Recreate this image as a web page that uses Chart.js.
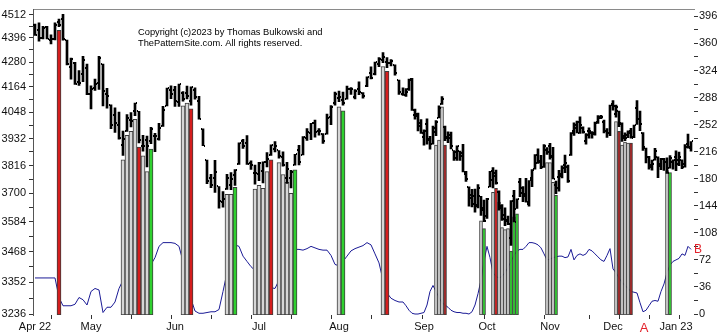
<!DOCTYPE html>
<html>
<head>
<meta charset="utf-8">
<script src="https://cdn.jsdelivr.net/npm/chart.js@4.4.1/dist/chart.umd.min.js"></script>
<style>
  html, body { margin: 0; padding: 0; background: #fff; }
  canvas { display: block; }
</style>
</head>
<body>
<canvas id="chart" width="725" height="334"></canvas>
<script>
// S&P 500 daily bars, 11 Apr 2022 .. 10 Jan 2023 (one entry per session)
const opens = [4462,4437,4394,4449,4385,4390,4473,4490,4385,4255,4278,4187,4223,4253,
  4131,4160,4181,4271,4129,4081,4035,3990,3903,3963,4013,4052,4052,3900,3927,3920,3942,3929,3985,4077,4151,
  4150,4095,4137,4134,4097,4148,4101,3974,3838,3764,3764,3728,3665,3716,3734,3775,3821,3920,3913,3826,3785,
  3781,3793,3831,3859,3888,3880,3851,3765,3764,3819,3883,3861,3935,3955,3999,3965,3953,3951,4026,4088,
  4112,4105,4107,4154,4116,4156,4134,4170,4228,4225,4270,4291,4280,4274,4266,4195,4133,4127,4154,4198,4034,4042,4000,
  3937,3995,3931,3910,3959,4023,4084,3983,3940,3932,3880,3849,3876,3871,3782,3727,3682,3687,3651,3687,3633,
  3609,3726,3753,3771,3707,3648,3595,3591,3521,3690,3638,3746,3703,3689,3657,3762,3800,3825,3835,3809,3881,
  3901,3853,3733,3767,3780,3818,3810,3859,3964,3977,4006,3977,3919,3967,3957,3956,4000,4024,4005,3964,3957,
  4087,4041,4052,3996,3933,3947,3954,3939,4069,4016,3958,3890,3853,3810,3840,3853,3815,3843,3829,3805,3829,
  3853,3840,3839,3823,3910,3889];
const highs = [4464,4471,4453,4453,4411,4471,4489,4513,4386,4299,4279,4240,4308,4270,
  4169,4200,4308,4271,4157,4082,4068,4049,3964,4038,4047,4090,4052,3946,3943,3981,3955,3999,4075,4158,4169,
  4166,4177,4142,4168,4164,4160,4120,3974,3839,3779,3838,3728,3707,3779,3786,3799,3913,3928,3945,3836,3818,
  3829,3832,3871,3904,3919,3880,3874,3829,3796,3863,3902,3940,3975,3999,4013,3975,3953,4040,4078,4140,
  4144,4140,4167,4161,4151,4187,4138,4211,4257,4280,4302,4325,4302,4292,4267,4195,4160,4156,4200,4204,4063,4044,4015,
  3970,4019,3942,3987,4011,4077,4119,3986,3961,3960,3880,3900,3877,3907,3791,3727,3716,3717,3736,3688,3672,
  3679,3791,3807,3797,3710,3654,3641,3608,3670,3712,3677,3762,3728,3762,3753,3799,3862,3887,3859,3905,3893,
  3911,3894,3750,3796,3814,3860,3818,3958,4001,4009,4028,3983,3954,3979,3962,4004,4033,4034,4013,3976,4080,
  4101,4080,4053,4001,3957,3966,3977,3991,4101,4053,3958,3890,3855,3839,3889,3853,3846,3846,3849,3858,3840,
  3878,3873,3840,3906,3951,3919];
const lows = [4408,4381,4392,4392,4367,4387,4452,4385,4267,4200,4175,4170,4188,4128,
  4063,4147,4152,4077,4067,3975,3959,3929,3859,3963,3983,4033,3913,3877,3810,3909,3875,3925,3985,4077,4110,
  4074,4074,4098,4109,4080,4107,4017,3901,3740,3723,3704,3639,3643,3716,3715,3732,3821,3889,3820,3799,3738,
  3752,3743,3810,3859,3874,3847,3813,3741,3722,3817,3818,3861,3924,3927,3938,3946,3911,3951,3993,4080,
  4096,4080,4107,4129,4108,4128,4112,4165,4201,4219,4258,4277,4253,4262,4218,4129,4125,4120,4147,4057,4017,3965,3954,
  3903,3907,3886,3907,3944,4023,4084,3922,3914,3887,3838,3838,3838,3789,3749,3647,3644,3623,3640,3610,3585,
  3598,3726,3722,3738,3631,3590,3569,3573,3492,3584,3638,3686,3666,3664,3647,3727,3800,3825,3803,3808,3863,
  3843,3759,3698,3709,3764,3786,3745,3859,3945,3956,3954,3955,3907,3933,3933,3947,3998,4020,3956,3937,3944,
  4058,4026,3984,3919,3922,3936,3933,3936,3994,3966,3880,3827,3800,3796,3839,3765,3798,3795,3783,3805,3800,
  3794,3815,3802,3809,3890,3877];
const closes = [4413,4397,4446,4392,4392,4462,4459,4393,4272,4296,4175,4183,4288,4132,
  4155,4175,4300,4147,4123,3991,4001,3935,3930,4024,4008,4088,3924,3901,3901,3974,3941,3979,4058,4158,4132,
  4101,4176,4109,4121,4161,4116,4018,3901,3750,3735,3790,3667,3675,3765,3760,3796,3912,3901,3821,3819,3785,
  3825,3831,3845,3903,3899,3855,3819,3802,3790,3863,3831,3937,3960,3999,3962,3967,3921,4024,4072,4130,
  4119,4091,4155,4152,4145,4140,4122,4210,4207,4280,4297,4305,4275,4284,4228,4138,4128,4141,4199,4057,4031,3986,3955,
  3966,3924,3908,3980,4006,4067,4110,3932,3946,3901,3873,3900,3856,3790,3758,3693,3655,3648,3720,3640,3586,
  3678,3791,3783,3744,3640,3613,3589,3577,3669,3583,3677,3720,3696,3666,3753,3798,3859,3830,3808,3901,3872,
  3856,3760,3720,3771,3807,3828,3749,3956,3993,3957,3992,3959,3947,3965,3950,4003,4027,4026,3964,3958,4080,
  4076,4072,3999,3941,3933,3963,3934,3991,4020,3996,3895,3852,3818,3821,3878,3822,3845,3829,3783,3849,3840,
  3824,3853,3808,3895,3893,3919];

// Blue indicator line, right-hand scale
const indicator = [48,48,48,48,48,48,22,11,11,11,13,22,19,12,
  30,34,32,2,9,9,16,34,45,52,56,60,62,63,64,66,75,90,95,95,95,
  94,90,70,45,20,4,1,1,2,3,3,6,30,55,75,92,90,77,70,63,58,
  50,42,38,35,34,45,60,72,82,86,86,85,87,90,88,86,85,85,78,66,
  64,70,77,84,87,89,91,95,92,80,68,45,28,21,18,16,16,11,5,1,0,0,1,
  2,12,30,38,30,22,15,12,9,5,3,2,2,1,1,0,3,12,27,45,70,
  90,75,55,50,48,50,55,62,70,78,84,86,86,90,95,95,94,92,88,80,72,
  73,75,76,77,77,75,76,86,72,78,80,78,80,86,84,80,76,72,70,78,87,
  60,55,48,42,38,34,30,29,28,15,3,5,11,17,18,17,30,40,55,65,70,
  72,74,80,78,90,86];

// Highlighted sessions: session number, top of the column, colour key
const markSession = [6, 22,23,24,25,26,27,28,29, 37,38,39, 48,49,50, 55,56,57,58,59, 61,62,63,64,65,
  76,77, 87,88, 103,104,105,106, 118,119, 122,123,124,125,126,127,128,129,130,
  140,141,142,143, 163,164,165,166,167,168, 180,181];
const markTop = [4434, 3840,3946,3963,4016,3895,3857,3790,3886, 4077,4090,4064, 3696,3696,3725,
  3717,3733,3720,3790,3840, 3828,3778,3745,3700,3798, 4073,4055, 4259,4236, 3903,3925,4073,3903,
  3589,3558, 3704,3720,3664,3562,3554,3558,3470,3605,3617, 3828,3828,3745,3692,
  4007,3963,3903,3916,3912,3912, 3794,3786];
const markKind = ['r', 'g','g','g','g','r','g','g','G', 'g','g','r', 'g','g','G', 'g','g','g','g','r',
  'g','g','g','g','G', 'g','G', 'g','r', 'g','g','g','d', 'g','G', 'g','r','g','g','g','g','G','G','G',
  'g','g','g','G', 'g','d','g','g','g','d', 'g','G'];

const monthLabels = ['Apr 22','May','Jun','Jul','Aug','Sep','Oct','Nov','Dec','Jan 23'];
const monthStart  = [0, 14, 35, 56, 76, 99, 120, 141, 162, 183];
const markerSessions = [9, 19, 29, 39, 49, 59, 69, 79, 89, 109, 129, 149, 159, 169, 179];
const priceTicks = Array.from({length: 23}, (_, k) => 3236 + 58 * k);
const indTicks = Array.from({length: 23}, (_, k) => 18 * k);

const copyrightLines = ['Copyright (c)2023 by Thomas Bulkowski and', 'ThePatternSite.com. All rights reserved.'];

// ---- axis geometry ----
const PRICE_MIN = 3232.5, PRICE_MAX = 4536.7;
const IND_MIN = -1.3, IND_MAX = 405;
const SPLIT = 92, LATE = 0.75;   // sessions after SPLIT use 3/4 of the spacing
const warp = v => v <= SPLIT ? v : SPLIT + (v - SPLIT) * LATE;
const unwarp = u => u <= SPLIT ? u : SPLIT + (u - SPLIT) / LATE;

class SessionScale extends Chart.LinearScale {
  getPixelForValue(value) {
    if (value === null || value === undefined || isNaN(value)) return NaN;
    const a = warp(this.min), b = warp(this.max);
    return this.getPixelForDecimal((warp(value) - a) / (b - a));
  }
  getValueForPixel(pixel) {
    const a = warp(this.min), b = warp(this.max);
    return unwarp(a + this.getDecimalForPixel(pixel) * (b - a));
  }
}
SessionScale.id = 'session';
SessionScale.defaults = Chart.LinearScale.defaults;
Chart.register(SessionScale);

const FONT = '"Liberation Sans", Arial, sans-serif';
const kindColor = { g: '#d6d6d6', r: '#d51d1d', d: '#a62323', G: '#2fd02f' };

function tickMark(side) {
  const c = document.createElement('canvas');
  c.width = 6; c.height = 2;
  const g = c.getContext('2d');
  g.fillStyle = '#000';
  g.fillRect(side < 0 ? 1 : 4, 0, 1, 2);
  return c;
}

const n = highs.length;
const earlyCols = [], lateCols = [];
markSession.forEach((s, k) => {
  const col = { x: s, y: [PRICE_MIN, markTop[k]], kind: markKind[k] };
  (s <= SPLIT ? earlyCols : lateCols).push(col);
});

const notes = {
  id: 'notes',
  afterDraw(chart) {
    const { ctx, chartArea, scales } = chart;
    ctx.save();
    ctx.fillStyle = '#000';
    ctx.font = '9.3px ' + FONT;
    ctx.textAlign = 'left';
    ctx.textBaseline = 'alphabetic';
    ctx.fillText(copyrightLines[0], chartArea.left + 105, chartArea.top + 25.5);
    ctx.fillText(copyrightLines[1], chartArea.left + 105, chartArea.top + 36);
    // A: low point of the indicator in December; B: its latest reading
    let lowIdx = monthStart[8];
    for (let i = monthStart[8]; i < n; i++) if (indicator[i] < indicator[lowIdx]) lowIdx = i;
    ctx.fillStyle = '#e3222b';
    ctx.textAlign = 'center';
    ctx.textBaseline = 'middle';
    ctx.font = '13px ' + FONT;
    ctx.fillText('A', scales.x.getPixelForValue(lowIdx) + 1, chartArea.bottom + 13);
    ctx.font = '12px ' + FONT;
    ctx.fillText('B', scales.x.getPixelForValue(n - 1) + 7, scales.y2.getPixelForValue(indicator[n - 1]));
    ctx.restore();
  }
};

const colStyle = {
  type: 'bar', order: 2, grouped: false,
  backgroundColor: c => kindColor[c.raw.kind],
  borderColor: '#3c3c3c', borderWidth: 1, borderSkipped: false,
  xAxisID: 'x', yAxisID: 'y'
};

new Chart(document.getElementById('chart'), {
  type: 'bar',
  data: {
    datasets: [
      {
        type: 'bar', label: 'Range', order: 1,
        data: highs.map((h, i) => ({ x: i, y: [lows[i], h] })),
        backgroundColor: '#000', barThickness: 2, grouped: false,
        xAxisID: 'x', yAxisID: 'y'
      },
      {
        type: 'scatter', label: 'Open', order: 0,
        data: opens.map((v, i) => ({ x: i, y: v })),
        pointStyle: tickMark(-1), pointRadius: 1, showLine: false,
        xAxisID: 'x', yAxisID: 'y'
      },
      {
        type: 'scatter', label: 'Close', order: 0,
        data: closes.map((v, i) => ({ x: i, y: v })),
        pointStyle: tickMark(1), pointRadius: 1, showLine: false,
        xAxisID: 'x', yAxisID: 'y'
      },
      Object.assign({ label: 'Marked early', data: earlyCols, barThickness: 4 }, colStyle),
      Object.assign({ label: 'Marked late', data: lateCols, barThickness: 3 }, colStyle),
      {
        type: 'line', label: 'Indicator', order: 3,
        data: indicator.map((v, i) => ({ x: i, y: v })),
        borderColor: '#1b1b96', borderWidth: 1, pointRadius: 0, tension: 0,
        xAxisID: 'x', yAxisID: 'y2'
      }
    ]
  },
  options: {
    responsive: false,
    devicePixelRatio: 1,
    animation: false,
    events: [],
    layout: { padding: 0 },
    plugins: { legend: { display: false }, tooltip: { enabled: false } },
    scales: {
      x: {
        type: 'session', position: 'bottom', weight: 1, min: -0.5, max: 189, bounds: 'data',
        afterBuildTicks: s => { s.ticks = monthStart.map(v => ({ value: v })); },
        afterFit: s => { s.height = 19; },
        grid: { display: false, drawTicks: false, tickLength: 0 },
        border: { display: false },
        ticks: {
          autoSkip: false, maxRotation: 0, minRotation: 0, padding: 5,
          color: '#111', font: { family: FONT, size: 11 },
          callback: (v, i) => monthLabels[i]
        }
      },
      xMarks: {
        type: 'session', position: 'bottom', weight: 0, min: -0.5, max: 189, bounds: 'data',
        afterBuildTicks: s => { s.ticks = markerSessions.map(v => ({ value: v })); },
        afterFit: s => { s.height = 0; },
        grid: { display: true, drawOnChartArea: false, drawTicks: true, tickLength: 4, color: '#333' },
        border: { display: false },
        ticks: { display: false }
      },
      xTop: {
        type: 'linear', position: 'top', min: 0, max: 1,
        afterFit: s => { s.height = 4; },
        grid: { display: false },
        border: { display: true, color: '#8a8a8a', width: 1 },
        ticks: { display: false }
      },
      y: {
        type: 'logarithmic', position: 'left', min: PRICE_MIN, max: PRICE_MAX, bounds: 'data',
        afterBuildTicks: s => { s.ticks = priceTicks.map(v => ({ value: v })); },
        afterFit: s => { s.width = 33; },
        grid: { display: true, drawOnChartArea: false, drawTicks: true, tickLength: 4, color: '#333' },
        border: { display: true, color: '#555', width: 1 },
        ticks: {
          autoSkip: false, padding: 3, color: '#111', font: { family: FONT, size: 11 },
          callback: (v, i) => (i % 2 === 0 ? String(priceTicks[i]) : '')
        }
      },
      y2: {
        type: 'linear', position: 'right', min: IND_MIN, max: IND_MAX, bounds: 'data',
        afterBuildTicks: s => { s.ticks = indTicks.map(v => ({ value: v })); },
        afterFit: s => { s.width = 31; },
        grid: { display: true, drawOnChartArea: false, drawTicks: true, tickLength: 4, color: '#333' },
        border: { display: false },
        ticks: {
          autoSkip: false, padding: 1, color: '#111', font: { family: FONT, size: 11 },
          callback: (v, i) => (i % 2 === 0 ? String(indTicks[i]) : '')
        }
      }
    }
  },
  plugins: [notes]
});
</script>
</body>
</html>
